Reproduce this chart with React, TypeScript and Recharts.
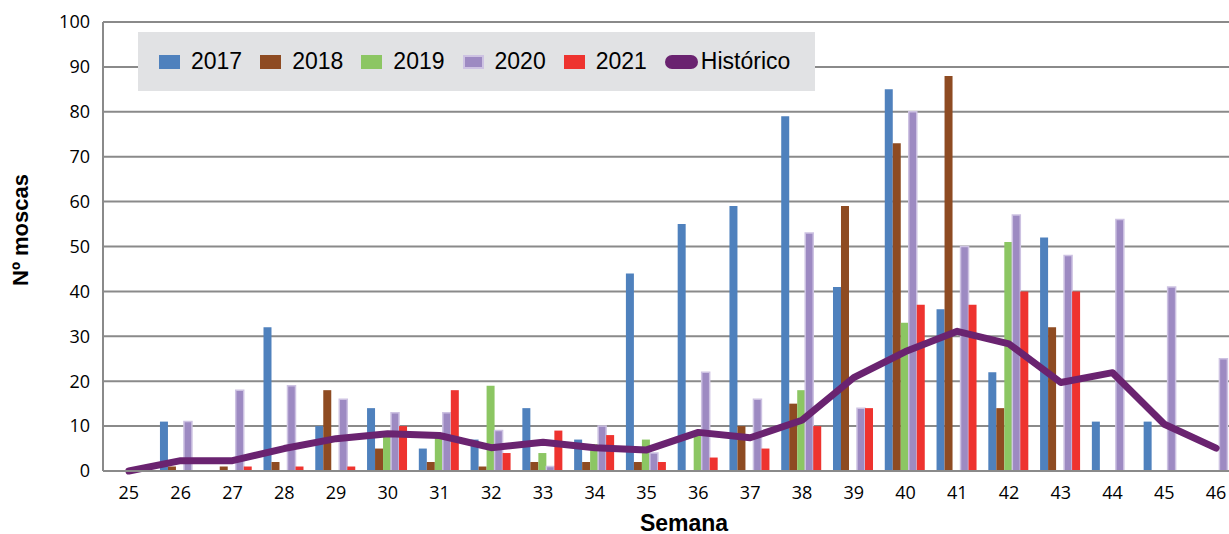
import { ComposedChart, Bar, Line, XAxis, YAxis, CartesianGrid } from "recharts";

const weeks = ["25", "26", "27", "28", "29", "30", "31", "32", "33", "34", "35", "36", "37", "38", "39", "40", "41", "42", "43", "44", "45", "46"];

const s2017 = [0, 11, 0, 32, 10, 14, 5, 7, 14, 7, 44, 55, 59, 79, 41, 85, 36, 22, 52, 11, 11, 0];
const s2018 = [0, 1, 1, 2, 18, 5, 2, 1, 2, 2, 2, 0, 10, 15, 59, 73, 88, 14, 32, 0, 0, 0];
const s2019 = [0, 0, 0, 0, 0, 8, 8, 19, 4, 6, 7, 8, 0, 18, 0, 33, 0, 51, 0, 0, 0, 0];
const s2020 = [0, 11, 18, 19, 16, 13, 13, 9, 1, 10, 4, 22, 16, 53, 14, 80, 50, 57, 48, 56, 41, 25];
const s2021 = [0, 0, 1, 1, 1, 10, 18, 4, 9, 8, 2, 3, 5, 10, 14, 37, 37, 40, 40, 0, 0, 0];
const historico = [0, 2.3, 2.3, 5, 7.2, 8.3, 7.9, 5.2, 6.4, 5.2, 4.7, 8.6, 7.4, 11.3, 20.8, 26.6, 31.1, 28.3, 19.7, 21.9, 10.4, 5.1];

const yTicks = [0, 10, 20, 30, 40, 50, 60, 70, 80, 90, 100];

const data = weeks.map((w, i) => ({
  week: w,
  y2017: s2017[i],
  y2018: s2018[i],
  y2019: s2019[i],
  y2020: s2020[i],
  y2021: s2021[i],
  hist: historico[i],
}));

const bars = [
  { key: "y2017", name: "2017", fill: "#4f81bd", stroke: "none" },
  { key: "y2018", name: "2018", fill: "#8e4b22", stroke: "none" },
  { key: "y2019", name: "2019", fill: "#8cc663", stroke: "none" },
  { key: "y2020", name: "2020", fill: "#9d8ac2", stroke: "#cdc2e2" },
  { key: "y2021", name: "2021", fill: "#ee332f", stroke: "none" },
];

const LINE_COLOR = "#6a2370";
const GRID = "#8a8a8a";
const tickFont = { fill: "#000", fontSize: 18, fontFamily: "Open Sans" };

function LegendBox() {
  return (
    <div
      style={{
        position: "absolute",
        left: 138,
        top: 32,
        width: 677,
        height: 59,
        background: "#e1e2e4",
        display: "flex",
        alignItems: "center",
        paddingLeft: 21,
        boxSizing: "border-box",
        fontFamily: "Liberation Sans, Arial, sans-serif",
        fontSize: 23,
        color: "#000",
      }}
    >
      {bars.map((b) => (
        <div key={b.key} style={{ display: "flex", alignItems: "center", marginRight: 18 }}>
          <span
            style={{
              display: "inline-block",
              width: 21,
              height: 14,
              background: b.fill,
              border: b.stroke !== "none" ? `2px solid ${b.stroke}` : "none",
              boxSizing: "border-box",
              marginRight: 11,
            }}
          />
          <span>{b.name}</span>
        </div>
      ))}
      <div style={{ display: "flex", alignItems: "center" }}>
        <span
          style={{
            display: "inline-block",
            width: 33,
            height: 14,
            borderRadius: 7,
            background: LINE_COLOR,
            marginRight: 3,
          }}
        />
        <span>Histórico</span>
      </div>
    </div>
  );
}

export default function App() {
  return (
    <div
      style={{
        position: "absolute",
        left: 0,
        top: 0,
        width: 1229,
        height: 534,
        overflow: "hidden",
        background: "#fff",
      }}
    >
      <ComposedChart
        width={1242}
        height={534}
        data={data}
        margin={{ top: 22, right: 0, bottom: 0, left: 40 }}
        barCategoryGap="10%"
        barGap={0}
      >
        <CartesianGrid vertical={false} stroke={GRID} strokeWidth={2} />
        <XAxis
          dataKey="week"
          height={63}
          interval={0}
          tickLine={false}
          tickSize={0}
          tickMargin={15}
          axisLine={{ stroke: GRID, strokeWidth: 2 }}
          tick={tickFont}
        />
        <YAxis
          width={63}
          domain={[0, 100]}
          ticks={yTicks}
          interval={0}
          tickLine={false}
          tickSize={0}
          tickMargin={13}
          axisLine={{ stroke: GRID, strokeWidth: 2 }}
          tick={tickFont}
        />
        {bars.map((b) => (
          <Bar
            key={b.key}
            dataKey={b.key}
            name={b.name}
            fill={b.fill}
            stroke={b.stroke}
            strokeWidth={b.stroke !== "none" ? 1.5 : 0}
            isAnimationActive={false}
          />
        ))}
        <Line
          type="linear"
          dataKey="hist"
          name="Histórico"
          stroke={LINE_COLOR}
          strokeWidth={7}
          strokeLinecap="round"
          strokeLinejoin="round"
          dot={false}
          activeDot={false}
          isAnimationActive={false}
        />
      </ComposedChart>
      <LegendBox />
      <div
        style={{
          position: "absolute",
          left: 21,
          top: 230,
          transform: "translate(-50%, -50%) rotate(-90deg)",
          whiteSpace: "nowrap",
          fontFamily: "Liberation Sans, Arial, sans-serif",
          fontWeight: "bold",
          fontSize: 22,
        }}
      >
        Nº moscas
      </div>
      <div
        style={{
          position: "absolute",
          left: 684,
          top: 523,
          transform: "translate(-50%, -50%)",
          whiteSpace: "nowrap",
          fontFamily: "Liberation Sans, Arial, sans-serif",
          fontWeight: "bold",
          fontSize: 23,
        }}
      >
        Semana
      </div>
    </div>
  );
}
